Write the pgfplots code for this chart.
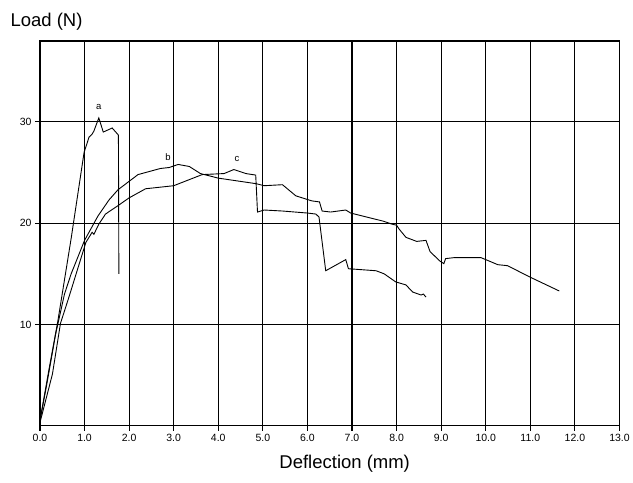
\documentclass[border=0pt]{standalone}
\usepackage{fontspec}
\setmainfont{Liberation Sans}
\usepackage{pgfplots}
\pgfplotsset{compat=1.18}

\begin{document}
\begin{tikzpicture}
\begin{axis}[
  scale only axis, width=580pt, height=385pt,
  xmin=0, xmax=13, ymin=0, ymax=38,
  xtick={0,1,...,13}, ytick={10,20,30},
  xtick pos=left, ytick pos=left,
  /pgf/number format/assume math mode=true,
  xticklabel={\pgfmathprintnumber[fixed,fixed zerofill,precision=1]{\tick}},
  grid=major, grid style={black, line width=1.1pt},
  axis line style={black, line width=1.1pt},
  tick align=outside, major tick length=5pt,
  tick style={black, line width=1.1pt},
  tick label style={font=\fontsize{10.5}{12}\selectfont},
  xlabel={Deflection (mm)},
  xlabel style={font=\fontsize{18.5}{21}\selectfont, xshift=15pt, yshift=-7pt},
  clip=false,
]
% curve a
\addplot[black, line width=0.9pt] coordinates {
  (0,0.5)(0.2,5.5)(0.4,10.3)(0.7,18.5)(0.99,27.0)(1.05,27.8)(1.1,28.5)
  (1.17,28.8)(1.21,29.1)(1.32,30.4)(1.42,29.0)(1.62,29.4)(1.7,29.0)
  (1.76,28.7)(1.77,15.0)};
% curve b
\addplot[black, line width=0.9pt] coordinates {
  (0,0.5)(0.15,4)(0.35,9)(0.55,13)(0.7,15)(1.0,18.3)(1.3,20.7)(1.55,22.3)
  (1.75,23.3)(2.2,24.8)(2.7,25.4)(2.9,25.5)(3.1,25.8)(3.35,25.6)(3.6,24.9)
  (4.0,24.45)(4.85,23.9)(5.03,23.7)(5.44,23.8)(5.74,22.7)(6.1,22.2)
  (6.27,22.1)(6.33,21.2)(6.52,21.1)(6.86,21.3)(6.97,21.0)(7.7,20.2)
  (7.9,19.9)(8.0,19.8)(8.06,19.4)(8.21,18.6)(8.45,18.2)(8.66,18.3)
  (8.75,17.2)(8.96,16.3)(9.06,16.0)(9.1,16.5)(9.3,16.6)(9.89,16.6)
  (10.0,16.4)(10.27,15.9)(10.49,15.8)(10.98,14.7)(11.65,13.3)};
% curve c
\addplot[black, line width=0.9pt] coordinates {
  (0,0.3)(0.28,5.1)(0.46,10.1)(0.65,12.7)(1.03,18.1)(1.1,18.6)(1.17,19.1)
  (1.21,18.9)(1.32,19.9)(1.47,20.9)(1.74,21.7)(2.0,22.5)(2.37,23.4)
  (3.0,23.7)(3.64,24.8)(4.13,24.9)(4.35,25.3)(4.62,24.9)(4.84,24.75)
  (4.88,21.1)(5.03,21.3)(5.44,21.2)(6.0,21.0)(6.19,20.9)(6.26,20.6)
  (6.41,15.3)(6.86,16.4)(6.92,15.5)(7.54,15.3)(7.72,15.0)(7.98,14.2)
  (8.21,13.9)(8.36,13.2)(8.55,12.9)(8.6,13.0)(8.66,12.7)};
\node[font=\fontsize{9.5}{11}\selectfont] at (axis cs:1.32,31.5) {a};
\node[font=\fontsize{9.5}{11}\selectfont] at (axis cs:2.87,26.5) {b};
\node[font=\fontsize{9.5}{11}\selectfont] at (axis cs:4.42,26.3) {c};
\node[anchor=base west, font=\fontsize{18.5}{21}\selectfont]
  at ([xshift=-33pt, yshift=14pt]rel axis cs:0,1) {Load (N)};
\end{axis}
% margins as in the reference
\path ([xshift=-40pt, yshift=41pt]current axis.north west);
\path ([yshift=-57pt]current axis.south east);
\end{tikzpicture}
\end{document}
